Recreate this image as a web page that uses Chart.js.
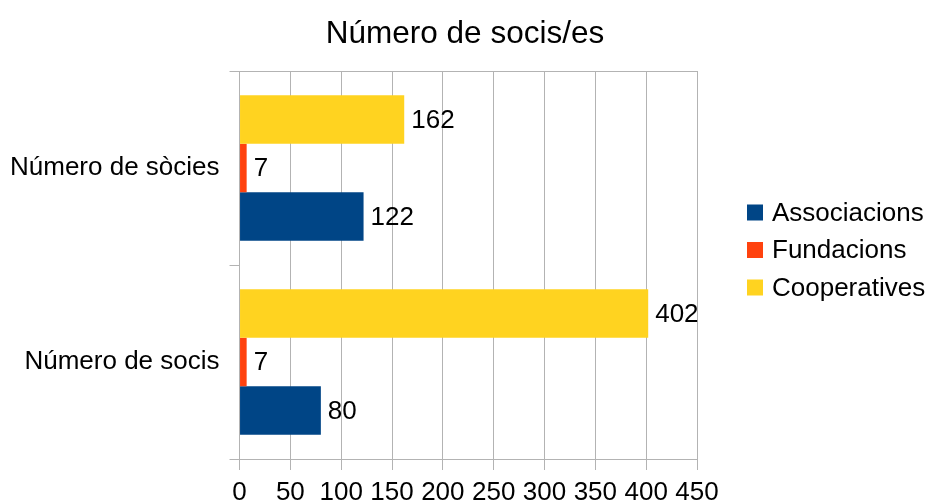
<!DOCTYPE html>
<html>
<head>
<meta charset="utf-8">
<script src="https://cdn.jsdelivr.net/npm/chart.js@4/dist/chart.umd.min.js"></script>
<style>
  body { margin: 0; background: #fff; }
  #wrap { width: 930px; height: 504px; }
</style>
</head>
<body>
<div id="wrap"><canvas id="socis" width="930" height="504"></canvas></div>
<script>
const titleText = 'Número de socis/es';
const categories = ['Número de sòcies', 'Número de socis'];
const associacions = [122, 80];
const fundacions = [7, 7];
const cooperatives = [162, 402];
const xTicks = [0, 50, 100, 150, 200, 250, 300, 350, 400, 450];

const font = "'Liberation Sans', Arial, sans-serif";
const grid = '#b3b3b3';

// etiquetes de valor a la dreta de cada barra
const valueLabels = {
    id: 'valueLabels',
    afterDatasetsDraw(chart) {
        const ctx = chart.ctx;
        ctx.save();
        ctx.font = '26px ' + font;
        ctx.fillStyle = '#000';
        ctx.textBaseline = 'middle';
        ctx.textAlign = 'left';
        chart.data.datasets.forEach((ds, i) => {
            chart.getDatasetMeta(i).data.forEach((bar, j) => {
                ctx.fillText(ds.data[j], bar.x + 7, bar.y + 1);
            });
        });
        ctx.restore();
    }
};

// títol centrat a tota l'amplada i llegenda a la dreta (Associacions primer)
const sideLegend = {
    id: 'sideLegend',
    afterDraw(chart) {
        const ctx = chart.ctx;
        ctx.save();
        ctx.textBaseline = 'middle';
        ctx.fillStyle = '#000';
        ctx.font = '31.5px ' + font;
        ctx.textAlign = 'center';
        ctx.fillText(titleText, chart.width / 2, 34);

        const items = chart.data.datasets.slice().reverse();
        const x = chart.chartArea.right + 50;
        const step = 37.5;
        let y = chart.height / 2 - 2 - step * (items.length - 1) / 2;
        ctx.font = '26px ' + font;
        ctx.textAlign = 'left';
        items.forEach(ds => {
            ctx.fillStyle = ds.backgroundColor;
            ctx.fillRect(x, y - 8, 16, 16);
            ctx.fillStyle = '#000';
            ctx.fillText(ds.label, x + 25, y + 1);
            y += step;
        });
        ctx.restore();
    }
};

new Chart(document.getElementById('socis'), {
    type: 'bar',
    data: {
        labels: categories,
        // ordre invers perquè Associacions quedi a baix de cada grup
        datasets: [
            { label: 'Cooperatives', data: cooperatives, backgroundColor: '#ffd320' },
            { label: 'Fundacions', data: fundacions, backgroundColor: '#ff420e' },
            { label: 'Associacions', data: associacions, backgroundColor: '#004586' }
        ]
    },
    options: {
        indexAxis: 'y',
        responsive: false,
        animation: false,
        categoryPercentage: 0.75,
        barPercentage: 1,
        layout: { padding: { left: 0, right: 233, top: 71, bottom: 0 } },
        scales: {
            x: {
                min: 0,
                max: 450,
                afterBuildTicks: axis => { axis.ticks = xTicks.map(v => ({ value: v })); },
                afterFit: axis => { axis.height = 45; },
                grid: { color: grid, tickLength: 11, tickColor: grid },
                border: { color: grid },
                ticks: { color: '#000', padding: 10, font: { family: font, size: 26, lineHeight: 1 } }
            },
            y: {
                grid: {
                    offset: true,
                    color: ctx => (ctx.index === 1 ? 'rgba(0,0,0,0)' : grid),
                    tickColor: grid,
                    tickLength: 10
                },
                border: { color: grid },
                ticks: { color: '#000', padding: 10, font: { family: font, size: 26 } }
            }
        },
        plugins: {
            title: { display: false },
            legend: { display: false },
            tooltip: { enabled: false }
        }
    },
    plugins: [valueLabels, sideLegend]
});
</script>
</body>
</html>
